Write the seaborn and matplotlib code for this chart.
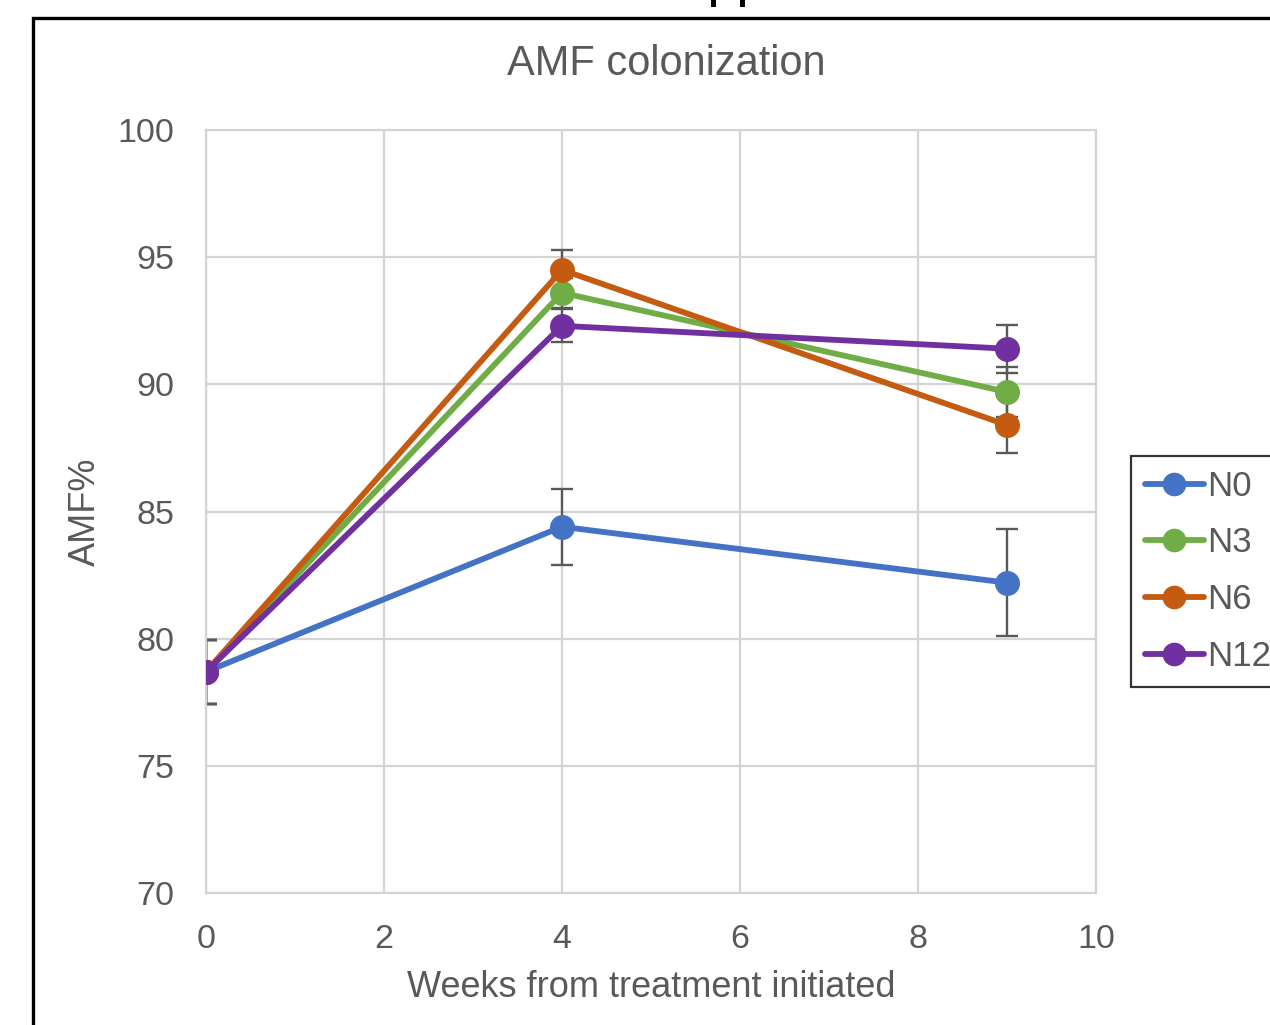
import matplotlib
matplotlib.use("Agg")
import matplotlib.pyplot as plt
import matplotlib.patches as mpatches
import seaborn as sns
import pandas as pd
import numpy as np

weeks = [0, 4, 9]
series = ["N0", "N3", "N6", "N12"]
n0 = [78.7, 84.4, 82.2]
n3 = [78.7, 93.6, 89.7]
n6 = [78.7, 94.5, 88.4]
n12 = [78.7, 92.3, 91.4]
n0_err = [1.25, 1.5, 2.1]
n3_err = [1.25, 0.6, 1.0]
n6_err = [1.25, 0.8, 1.1]
n12_err = [1.25, 0.65, 0.95]
colors = ["#4472C4", "#70AD47", "#C55A11", "#7030A0"]
x_ticks = [0, 2, 4, 6, 8, 10]
y_ticks = [70, 75, 80, 85, 90, 95, 100]

values = {"N0": n0, "N3": n3, "N6": n6, "N12": n12}
errors = {"N0": n0_err, "N3": n3_err, "N6": n6_err, "N12": n12_err}
rows = []
for s in series:
    for w, v, e in zip(weeks, values[s], errors[s]):
        rows.append({"week": w, "AMF": v, "err": e, "series": s})
df = pd.DataFrame(rows)

sns.set_style("white")
plt.rcParams["font.family"] = ["Liberation Sans", "DejaVu Sans"]

fig = plt.figure(figsize=(12.7, 10.25), dpi=100)
ax = fig.add_axes([206/1270, 1-893/1025, (1096-206)/1270, (893-130)/1025])

text_c = "#595959"
grid_c = "#D4D4D4"

# error bars first (behind)
for s, c in zip(series, colors):
    sub = df[df.series == s]
    ax.errorbar(sub.week, sub.AMF, yerr=sub.err, fmt="none", ecolor="#595959",
                elinewidth=1.7, capsize=8, capthick=1.7, zorder=2)

sns.lineplot(data=df, x="week", y="AMF", hue="series", hue_order=series,
             palette=colors, marker="o", markersize=18, markeredgewidth=0,
             linewidth=4.2, ax=ax, legend=False, zorder=3, estimator=None)

ax.set_xlim(0, 10)
ax.set_ylim(70, 100)
ax.set_xticks(x_ticks)
ax.set_yticks(y_ticks)
ax.grid(True, color=grid_c, linewidth=1.6)
ax.set_axisbelow(True)
for sp in ax.spines.values():
    sp.set_visible(True)
    sp.set_color(grid_c)
    sp.set_linewidth(1.6)
ax.tick_params(axis="y", labelsize=24.5, colors=text_c, length=0, pad=23)
ax.tick_params(axis="x", labelsize=24.5, colors=text_c, length=0, pad=22)
ax.set_xlabel("Weeks from treatment initiated", fontsize=26, color=text_c, labelpad=11)
ax.set_ylabel("AMF%", fontsize=26, color=text_c, labelpad=10)
fig.text(666/1270, 1-64/1025, "AMF colonization", fontsize=30, color=text_c,
         ha="center", va="center")

handles = [plt.Line2D([], [], color=c, linewidth=4.2, marker="o", markersize=16)
           for c in colors]
leg = fig.legend(handles, series, loc="upper left",
                 bbox_to_anchor=(1131/1270, 1-456/1025), borderaxespad=0,
                 fontsize=25, frameon=True, fancybox=False, handlelength=1.7,
                 handletextpad=0.1, labelspacing=0.68, borderpad=0.4,
                 labelcolor=text_c)
leg.get_frame().set_edgecolor("black")
leg.get_frame().set_linewidth(1.6)

# outer black border (cut-off panel frame)
rect = mpatches.Rectangle((33/1270, -0.1), 1.2, 1.1 - 18/1025, fill=False,
                          edgecolor="black", linewidth=2.4,
                          transform=fig.transFigure, clip_on=False)
fig.patches.append(rect)
# bottom fragments of a cut-off panel letter above the frame
for xs in (711, 740):
    fig.patches.append(mpatches.Rectangle((xs/1270, 1-7/1025), 5/1270, 8/1025,
                                          facecolor="black", edgecolor="none",
                                          transform=fig.transFigure))

fig.savefig("out.png", dpi=100)
